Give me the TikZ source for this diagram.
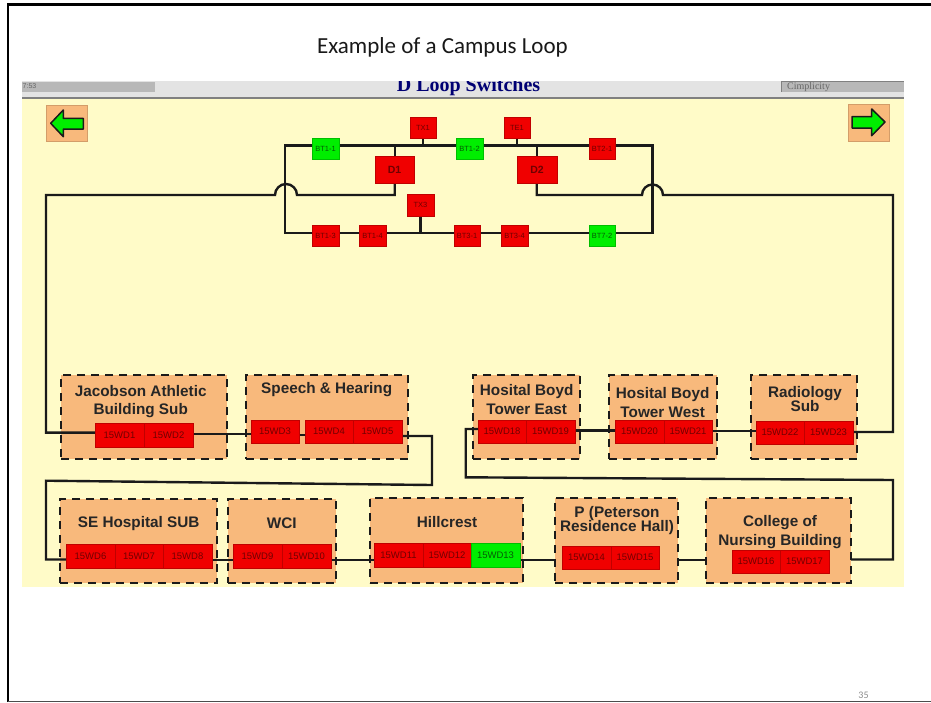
\documentclass[tikz,border=0pt]{standalone}
\usepackage{fontspec}
\setmainfont{Liberation Sans}
\newfontfamily\titlefont{Carlito}
\newfontfamily\serifbold{Liberation Serif}
\definecolor{bgyellow}{HTML}{FFFBC8}
\definecolor{boxtan}{HTML}{F8B97C}
\definecolor{swred}{HTML}{F00000}
\definecolor{swgreen}{HTML}{00EE00}
\definecolor{inkred}{HTML}{700000}
\definecolor{inkgreen}{HTML}{065A06}
\definecolor{linedark}{HTML}{1A1A1A}
\pgfdeclarelayer{backl}
\pgfdeclarelayer{wirel}
\pgfsetlayers{backl,wirel,main}
\tikzset{
  x=1pt,y=-1pt,
  swbase/.style={draw=#1!80!black,line width=.5pt,inner sep=0pt,outer sep=0pt,font=\fontsize{9.5}{10}\selectfont},
  swr/.style={swbase=swred,fill=swred,text=inkred},
  swg/.style={swbase=swgreen,fill=swgreen,text=inkgreen},
  topsw/.style={font=\fontsize{7.5}{8}\selectfont},
  bigsw/.style={font=\bfseries\fontsize{10.5}{11}\selectfont},
  area/.style={fill=boxtan,draw=linedark,line width=2.3pt,dash pattern=on 8pt off 6pt,inner sep=0pt,outer sep=0pt},
  arealabel/.style={font=\bfseries\fontsize{15.3}{18.3}\selectfont,text=black!85,align=center,inner sep=0pt},
  wire/.style={draw=linedark,line width=2.4pt,line join=miter},
  navbtn/.style={fill=boxtan,draw=boxtan!85!black,line width=.6pt},
  navarrow/.style={fill=swgreen,draw=linedark,line width=1.5pt,line join=round},
}
% #1 name, #2 x0, #3 y0, #4 x1, #5 y1, #6 style, #7 text
\newcommand{\swbox}[7]{\node[#6,minimum width=#4pt-#2pt,minimum height=#5pt-#3pt,anchor=north west] (#1) at (#2,#3) {#7};}
\begin{document}
\begin{tikzpicture}
\useasboundingbox (0,0) rectangle (931,702);
\begin{pgfonlayer}{backl}
\fill[white] (0,0) rectangle (931,702);
% slide frame
\draw[black,line width=2.3pt] (7.8,702) -- (7.8,4.4) -- (931,4.4);
\draw[black!70,line width=1.2pt] (7.8,701.4) -- (931,701.4);
% window
\fill[bgyellow] (22,99) rectangle (904,587);
\fill[black!11] (22,81) rectangle (904,98);
\fill[black!50] (22,97.4) rectangle (904,99);
\fill[black!28] (22,81.7) rectangle (155,91.7);
\fill[black!28] (781,81.7) rectangle (904,91.7);
\draw[black!50,line width=.6pt] (781.5,91.7) -- (781.5,81.7) -- (904,81.7);
\begin{scope}
\clip (22,81) rectangle (904,98);
\node[font=\fontsize{7}{8}\selectfont,text=black!60,anchor=west,inner sep=0pt] (clock) at (22.5,86.5) {7:53};
\node[font=\serifbold\fontsize{10}{11}\selectfont,text=black!60,anchor=west,inner sep=0pt] (cimp) at (787,87) {Cimplicity};
\node[font=\serifbold\bfseries\fontsize{20}{22}\selectfont,text=blue!45!black] (head) at (468.5,86.5) {D Loop Switches};
\end{scope}
% dashed building areas
\swbox{aJ}{61}{375}{227}{459}{area}{}
\swbox{aS}{246}{375}{408}{459}{area}{}
\swbox{aE}{473}{375}{580}{459}{area}{}
\swbox{aW}{609}{375}{717}{459}{area}{}
\swbox{aR}{751}{375}{857}{459}{area}{}
\swbox{aH}{60}{499}{217}{583}{area}{}
\swbox{aC}{228}{499}{336}{583}{area}{}
\swbox{aI}{370}{498}{523}{583}{area}{}
\swbox{aP}{555}{498}{678}{583}{area}{}
\swbox{aN}{706}{498}{851}{583}{area}{}
\end{pgfonlayer}
\node[font=\titlefont\fontsize{23}{25}\selectfont,text=black!90] (title) at (442.5,47) {Example of a Campus Loop};
\node[font=\titlefont\fontsize{10}{11}\selectfont,text=black!45] (pageno) at (863.5,695.5) {35};
% nav buttons
\path[navbtn] (46.7,105.7) rectangle (87.7,141.7);
\path[navarrow] (50.7,123.3) -- (63.3,110) -- (63.3,118.3) -- (83.3,118.3) -- (83.3,129) -- (63.3,129) -- (63.3,136.7) -- cycle;
\path[navbtn] (848,104) rectangle (889,141);
\path[navarrow] (885,122) -- (871.7,109) -- (871.7,116.7) -- (852,116.7) -- (852,128) -- (871.7,128) -- (871.7,135.7) -- cycle;
% area labels
\node[arealabel] (lbJ) at (140.7,401.5) {Jacobson Athletic\\Building Sub};
\node[arealabel] (lbS) at (326.7,389.5) {Speech \& Hearing};
\node[arealabel] (lbE) at (526.7,399.5) {Hosital Boyd\\Tower East};
\node[arealabel] (lbW) at (662.7,402.5) {Hosital Boyd\\Tower West};
\node[arealabel] (lbR) at (805,399) {Radiology\\[-4pt]Sub};
\node[arealabel] (lbH) at (138.7,523.5) {SE Hospital SUB};
\node[arealabel] (lbC) at (281.7,523.5) {WCI};
\node[arealabel] (lbI) at (447,522.5) {Hillcrest};
\node[arealabel] (lbP) at (617,520.5) {P (Peterson\\[-4pt]Residence Hall)};
\node[arealabel] (lbN) at (780,532.2) {College of\\Nursing Building};
% switches
\swbox{w1}{95}{423}{144}{447}{swr}{15WD1}
\swbox{w2}{144}{423}{193}{447}{swr}{15WD2}
\swbox{w3}{251}{420}{299}{443}{swr}{15WD3}
\swbox{w4}{305}{420}{353}{443}{swr}{15WD4}
\swbox{w5}{353}{420}{402}{443}{swr}{15WD5}
\swbox{w6}{66}{544}{115}{568}{swr}{15WD6}
\swbox{w7}{115}{544}{163}{568}{swr}{15WD7}
\swbox{w8}{163}{544}{212}{568}{swr}{15WD8}
\swbox{w9}{233}{544}{282}{568}{swr}{15WD9}
\swbox{w10}{282}{544}{331}{568}{swr}{15WD10}
\swbox{w11}{374}{543}{423}{567}{swr}{15WD11}
\swbox{w12}{423}{543}{471}{567}{swr}{15WD12}
\swbox{w13}{471}{543}{520}{567}{swg}{15WD13}
\swbox{w14}{562}{546}{611}{569}{swr}{15WD14}
\swbox{w15}{611}{546}{659}{569}{swr}{15WD15}
\swbox{w16}{732}{550}{780}{573}{swr}{15WD16}
\swbox{w17}{780}{550}{829}{573}{swr}{15WD17}
\swbox{w18}{478}{420}{526}{443}{swr}{15WD18}
\swbox{w19}{526}{420}{575}{443}{swr}{15WD19}
\swbox{w20}{615}{420}{664}{443}{swr}{15WD20}
\swbox{w21}{664}{420}{712}{443}{swr}{15WD21}
\swbox{w22}{756}{421}{804}{444}{swr}{15WD22}
\swbox{w23}{804}{421}{853}{444}{swr}{15WD23}
% top switches
\swbox{tx1}{410}{117}{436}{138}{swr,topsw}{TX1}
\swbox{te1}{504}{117}{530}{138}{swr,topsw}{TE1}
\swbox{bt11}{312}{138}{339}{159}{swg,topsw}{BT1-1}
\swbox{bt12}{456}{138}{483}{159}{swg,topsw}{BT1-2}
\swbox{bt21}{589}{138}{615}{159}{swr,topsw}{BT2-1}
\swbox{d1}{375}{156}{414}{183}{swr,bigsw}{D1}
\swbox{d2}{517}{156}{557}{183}{swr,bigsw}{D2}
\swbox{tx3}{407}{194}{434}{216}{swr,topsw}{TX3}
\swbox{b1}{312}{225}{339}{246}{swr,topsw}{BT1-3}
\swbox{b2}{359}{225}{386}{246}{swr,topsw}{BT1-4}
\swbox{b3}{454}{225}{480}{246}{swr,topsw}{BT3-1}
\swbox{b4}{501}{225}{528}{246}{swr,topsw}{BT3-4}
\swbox{b5}{589}{225}{615}{246}{swg,topsw}{BT7-2}
% free-end coordinates of the loop
\coordinate (tl) at (285,145.3);
\coordinate (tr) at (652.5,145.3);
\coordinate (bl) at (285,233);
\coordinate (br) at (652.5,233);
\coordinate (jt) at (394.7,145.3);
\coordinate (jd) at (536.7,145.3);
\coordinate (ol) at (46,195);
\coordinate (or) at (893,195);
\coordinate (ya) at (46,432.6);
\coordinate (yb) at (893,432);
\coordinate (y23) at (0,434);
\coordinate (y34) at (0,435);
\coordinate (y5) at (432,436);
\coordinate (wa) at (432,485);
\coordinate (wb) at (46,480.7);
\coordinate (wc) at (46,559.5);
\coordinate (yrow) at (0,560);
\coordinate (yc) at (893,559.5);
\coordinate (wd) at (893,480);
\coordinate (we) at (465.7,477.3);
\coordinate (wf) at (465.7,429);
\coordinate (y1920) at (0,430.3);
\coordinate (y2122) at (0,431);
\begin{pgfonlayer}{wirel}
% top loop
\draw[wire] (tl -| bt11.center) -- (tl) -- (bl) -- (bl -| b1.center);
\draw[wire] (tl -| bt11.center) -- (tl -| bt12.center);
\draw[wire] (tl -| bt12.center) -- (tl -| bt21.center);
\draw[wire] (tl -| bt21.center) -- (tr) -- (br) -- (br -| b5.center);
\draw[wire] (bl -| b1.center) -- (bl -| b2.center);
\draw[wire] (bl -| b2.center) -- (bl -| b3.center);
\draw[wire] (bl -| b3.center) -- (bl -| b4.center);
\draw[wire] (bl -| b4.center) -- (bl -| b5.center);
\draw[wire] (tx1.center) -- (tl -| tx1.center);
\draw[wire] (te1.center) -- (tl -| te1.center);
\draw[wire] (tx3.center) -- (bl -| tx3.center);
\draw[wire] (jt) -- (jt |- d1.center);
\draw[wire] (jd) -- (jd |- d2.center);
% feeders with hops
\draw[wire] (ya -| w1.center) -- (ya) -- (ol) -- (275,195) arc[start angle=180,end angle=360,radius=11] -- (jt |- ol) -- (jt |- d1.center);
\draw[wire] (jd |- d2.center) -- (jd |- or) -- (642,195) arc[start angle=180,end angle=360,radius=10.5] -- (or) -- (yb) -- (yb -| w23.center);
% building chain
\draw[wire] (y23 -| w2.center) -- (y23 -| w3.center);
\draw[wire] (y34 -| w3.center) -- (y34 -| w4.center);
\draw[wire] (y5 -| w5.center) -- (y5) -- (wa) -- (wb) -- (wc) -- (wc -| w6.center);
\draw[wire] (yrow -| w8.center) -- (yrow -| w9.center);
\draw[wire] (yrow -| w10.center) -- (yrow -| w11.center);
\draw[wire] (yrow -| w13.center) -- (yrow -| aP.west);
\draw[wire] (yrow -| aP.east) -- (yrow -| aN.west);
\draw[wire] (yc -| aN.east) -- (yc) -- (wd) -- (we) -- (wf) -- (wf -| w18.center);
\draw[wire] (y1920 -| w19.center) -- (y1920 -| w20.center);
\draw[wire] (y2122 -| w21.center) -- (y2122 -| w22.center);
\end{pgfonlayer}
\end{tikzpicture}
\end{document}
